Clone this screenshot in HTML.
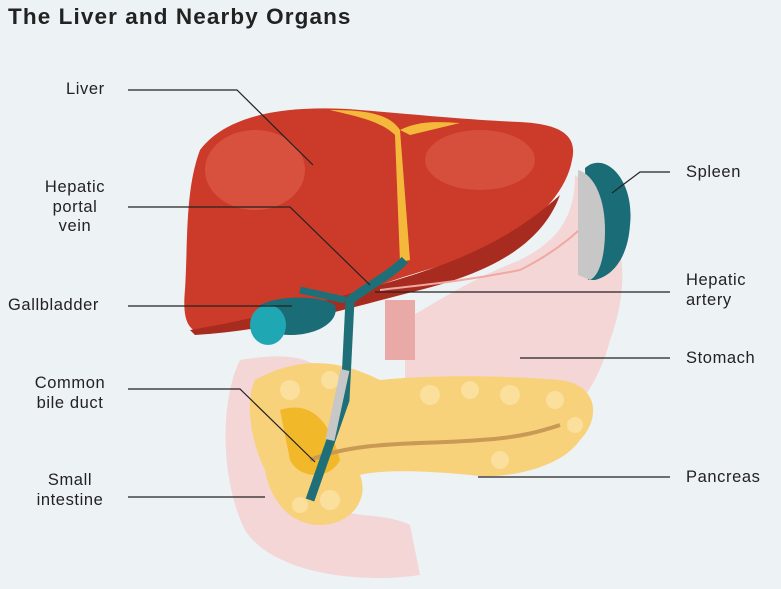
<!DOCTYPE html>
<html><head><meta charset="utf-8"><style>
html,body{margin:0;padding:0;width:781px;height:589px;overflow:hidden;background:#edf2f5;font-family:"Liberation Sans",sans-serif;}
.t{position:absolute;font-size:16.5px;letter-spacing:0.6px;color:#222;line-height:19.5px;}
</style></head><body>
<div class="t" style="left:8px;top:7px;font-size:22.5px;letter-spacing:1.1px;font-weight:bold;">The Liver and Nearby Organs</div>
<svg width="781" height="589" style="position:absolute;left:0;top:0">
<!-- stomach -->
<path d="M575,175 C610,200 640,260 610,340 C590,420 520,470 440,470 L405,470 L405,320 C440,300 470,280 520,260 C560,240 575,215 575,175 Z" fill="#f3d3d2" opacity="0.9"/>
<rect x="385" y="300" width="30" height="60" fill="#e9a9a6"/>
<!-- small intestine -->
<path d="M240,360 C300,350 330,360 330,400 L330,500 C330,520 380,510 410,525 L420,575 C350,585 270,570 245,530 C220,480 220,400 240,360 Z" fill="#f3d3d2" opacity="0.9"/>
<!-- pancreas -->
<path d="M255,380 C300,355 340,360 380,380 C430,375 500,375 560,380 C600,385 600,420 580,440 C560,470 500,480 470,475 C420,470 380,470 360,475 C370,500 350,525 320,525 C290,525 270,500 265,470 C250,440 245,400 255,380 Z" fill="#f8d27a"/>
<g fill="#fbe3a6" opacity="0.8">
<circle cx="290" cy="390" r="10"/><circle cx="330" cy="380" r="9"/><circle cx="430" cy="395" r="10"/><circle cx="470" cy="390" r="9"/><circle cx="510" cy="395" r="10"/><circle cx="555" cy="400" r="9"/><circle cx="575" cy="425" r="8"/><circle cx="330" cy="500" r="10"/><circle cx="300" cy="505" r="8"/><circle cx="500" cy="460" r="9"/>
</g>
<path d="M280,410 C310,400 330,420 340,460 C330,480 300,480 290,460 Z" fill="#f1b82a"/>
<path d="M310,460 C360,440 420,445 480,440 C520,438 545,430 560,425" stroke="#c89a55" stroke-width="4" fill="none"/>
<!-- liver -->
<path d="M200,150 C230,110 300,105 360,110 C420,115 470,120 520,122 C560,124 578,135 572,160 C565,200 520,240 460,260 C420,272 390,280 370,290 C320,300 260,320 210,332 C188,336 182,320 185,290 C188,240 185,190 200,150 Z" fill="#cc3b2a"/>
<path d="M190,330 C260,318 330,300 380,285 C430,270 500,250 560,195 C540,250 480,275 420,290 C360,305 280,330 195,335 Z" fill="#a82b20"/>
<ellipse cx="255" cy="170" rx="50" ry="40" fill="#e0614e" opacity="0.6"/>
<ellipse cx="480" cy="160" rx="55" ry="30" fill="#e0614e" opacity="0.5"/>
<path d="M330,110 C370,110 390,115 400,130 L410,260 L400,262 L395,135 C380,120 350,115 330,110 Z" fill="#f4b93a"/>
<path d="M400,130 C420,120 440,122 460,123 L410,135 Z" fill="#f4b93a"/>
<!-- ducts -->
<path d="M405,260 C390,275 370,285 350,300 L345,400 L310,500" stroke="#1f6f78" stroke-width="9" fill="none"/>
<path d="M345,370 L330,440" stroke="#c7c7c7" stroke-width="9"/>
<path d="M300,290 L345,300" stroke="#1f6f78" stroke-width="7"/>
<path d="M380,290 C420,285 460,282 520,270 C560,250 580,230 600,210" stroke="#f0a8a0" stroke-width="2" fill="none"/>
<!-- gallbladder -->
<path d="M260,305 C280,295 320,295 335,305 C340,320 320,335 290,335 C270,335 255,325 260,305 Z" fill="#1a6d76"/>
<ellipse cx="268" cy="325" rx="18" ry="20" fill="#1fa8b4"/>
<!-- spleen -->
<path d="M585,168 C605,150 635,180 630,225 C628,255 615,275 595,280 L588,280 L585,168 Z" fill="#1a6d76"/>
<path d="M578,170 C595,175 605,200 605,230 C605,255 600,275 590,280 L578,275 Z" fill="#c7c7c7"/>
<g stroke="#222" stroke-width="1.2" fill="none">
<polyline points="128,90 237,90 313,165"/>
<polyline points="128,207 290,207 370,285"/>
<polyline points="128,306 292,306"/>
<polyline points="128,389 240,389 315,462"/>
<polyline points="128,497 265,497"/>
<polyline points="670,172 640,172 612,193"/>
<polyline points="670,292 375,292"/>
<polyline points="670,358 520,358"/>
<polyline points="670,477 478,477"/>
</g>
</svg>
<div class="t" style="left:66px;top:80px">Liver</div>
<div class="t" style="left:35px;top:178px;text-align:center;width:80px">Hepatic<br>portal<br>vein</div>
<div class="t" style="left:8px;top:296px">Gallbladder</div>
<div class="t" style="left:25px;top:374px;text-align:center;width:90px">Common<br>bile duct</div>
<div class="t" style="left:25px;top:471px;text-align:center;width:90px">Small<br>intestine</div>
<div class="t" style="left:686px;top:163px">Spleen</div>
<div class="t" style="left:686px;top:271px">Hepatic<br>artery</div>
<div class="t" style="left:686px;top:349px">Stomach</div>
<div class="t" style="left:686px;top:468px">Pancreas</div>
</body></html>
